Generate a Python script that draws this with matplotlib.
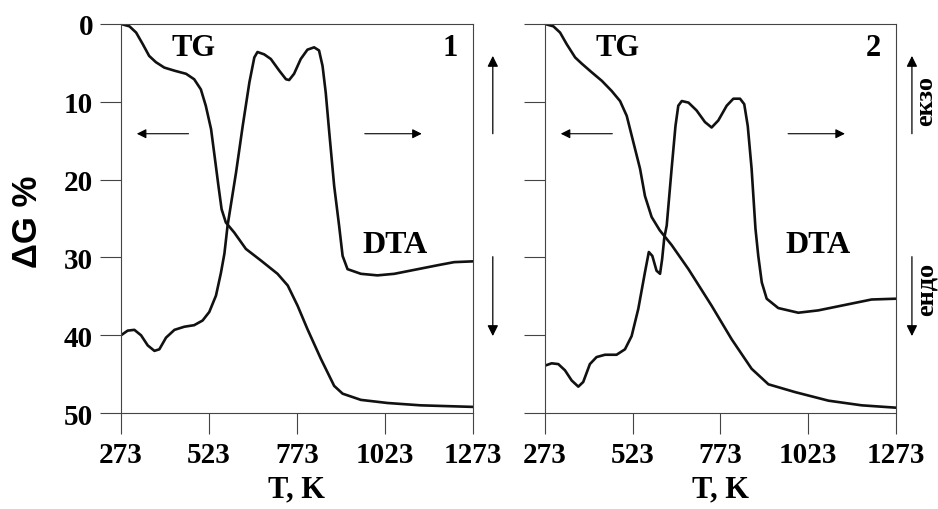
import matplotlib
matplotlib.use("Agg")
from matplotlib import pyplot as plt

# sample 1
tg1_t = [273, 297, 316, 335, 353, 372, 396, 425, 458, 481, 500, 514, 529, 540, 550, 559, 571, 595,
         628, 671, 718, 747, 775, 803, 841, 879, 903, 955, 1031, 1125, 1273]
tg1_g = [0.0, 0.3, 1.1, 2.6, 4.1, 4.9, 5.6, 6.0, 6.4, 7.1, 8.4, 10.5, 13.5, 17.3, 20.8, 23.8, 25.5, 26.8,
         28.9, 30.4, 32.1, 33.6, 36.2, 39.2, 43.0, 46.5, 47.5, 48.3, 48.7, 49.0, 49.2]

dta1_t = [273, 292, 311, 330, 349, 368, 382, 401, 425, 453, 481, 505, 524, 543, 557, 567, 576, 600, 619, 638,
          652, 661, 680, 699, 723, 742, 751, 765, 784, 803, 822, 836, 846, 855, 865, 879, 893, 903,
          917, 955, 1002, 1050, 1106, 1173, 1220, 1273]
dta1_v = [40.0, 39.4, 39.3, 40.0, 41.3, 42.0, 41.8, 40.3, 39.3, 38.9, 38.7, 38.1, 37.0, 34.9, 32.0, 29.5, 25.9, 19.1, 13.1, 7.5,
          4.3, 3.6, 3.9, 4.5, 6.0, 7.1, 7.2, 6.4, 4.5, 3.3, 3.0, 3.4, 5.4, 8.8, 13.9, 20.8, 25.9, 29.8,
          31.5, 32.1, 32.3, 32.1, 31.6, 31.0, 30.6, 30.5]

# sample 2
tg2_t = [273, 297, 316, 335, 359, 378, 406, 435, 463, 487, 506, 525, 544, 558, 577, 600, 634, 682,
         748, 805, 862, 910, 986, 1081, 1176, 1273]
tg2_g = [0.0, 0.3, 1.1, 2.6, 4.3, 5.1, 6.2, 7.3, 8.6, 9.9, 11.8, 15.2, 18.6, 22.1, 24.8, 26.5, 28.4, 31.5,
         36.2, 40.5, 44.3, 46.3, 47.3, 48.4, 49.0, 49.3]

dta2_t = [273, 292, 311, 330, 349, 368, 382, 401, 420, 444, 477, 501, 520, 539, 558, 569, 579, 591, 601, 607,
          613, 620, 634, 645, 653, 663, 682, 705, 729, 748, 767, 791, 810, 829, 841, 851, 862, 873,
          881, 891, 905, 938, 995, 1052, 1128, 1204, 1273]
dta2_v = [43.9, 43.6, 43.7, 44.5, 45.8, 46.6, 46.0, 43.7, 42.8, 42.5, 42.5, 41.8, 40.1, 36.6, 31.9, 29.3, 29.8, 31.7, 32.1, 30.2,
          27.5, 25.9, 18.6, 13.1, 10.5, 9.9, 10.1, 11.1, 12.6, 13.3, 12.4, 10.5, 9.6, 9.6, 10.3, 13.1, 18.6, 26.3,
          29.8, 33.2, 35.3, 36.5, 37.1, 36.8, 36.1, 35.4, 35.3]

x_ticks = [273, 523, 773, 1023, 1273]
y_ticks = [0, 10, 20, 30, 40, 50]

serif = "Liberation Serif"
frame = "#444444"

fig = plt.figure(figsize=(9.38, 5.10), dpi=100)
ax1 = fig.add_axes([0.129, 0.188, 0.375, 0.763])
ax2 = fig.add_axes([0.581, 0.188, 0.374, 0.763])

panels = [(ax1, tg1_t, tg1_g, dta1_t, dta1_v, "1"), (ax2, tg2_t, tg2_g, dta2_t, dta2_v, "2")]

for ax, tt, tg, dt, dv, num in panels:
    ax.plot(tt, tg, color="#111111", lw=1.9, solid_joinstyle="round")
    ax.plot(dt, dv, color="#111111", lw=1.9, solid_joinstyle="round")
    ax.set_xlim(273, 1273)
    ax.set_ylim(50, 0)
    ax.set_xticks(x_ticks)
    ax.set_yticks(y_ticks)
    ax.tick_params(direction="out", length=15, width=0.8, color=frame, pad=5)
    for lbl in ax.get_xticklabels() + ax.get_yticklabels():
        lbl.set_fontfamily(serif)
        lbl.set_fontweight("bold")
        lbl.set_fontsize(21)
    for sp in ax.spines.values():
        sp.set_color(frame)
        sp.set_linewidth(0.8)
    ax.set_xlabel("T, K", family=serif, fontweight="bold", fontsize=22, labelpad=5)

    ax.text(480, 3.0, "TG", family=serif, fontweight="bold", fontsize=22, ha="center", va="center")
    ax.text(1208, 3.0, num, family=serif, fontweight="bold", fontsize=22, ha="center", va="center")
    ax.text(1051, 28.3, "DTA", family=serif, fontweight="bold", fontsize=23, ha="center", va="center")

    # small arrows pointing to the axis for each curve
    ax.annotate("", xy=(318, 14.1), xytext=(465, 14.1),
                arrowprops=dict(arrowstyle="-|>", lw=0.8, color="black", mutation_scale=14, shrinkA=0, shrinkB=0))
    ax.annotate("", xy=(1128, 14.1), xytext=(966, 14.1),
                arrowprops=dict(arrowstyle="-|>", lw=0.8, color="black", mutation_scale=14, shrinkA=0, shrinkB=0))

ax2.set_yticklabels([])

ax1.set_ylabel("ΔG %", family="Liberation Sans", fontweight="bold", fontsize=25)
ax1.yaxis.set_label_coords(-0.22, 0.495)

# exo / endo arrows on the right of each panel
for ax, xf in [(ax1, 1.057), (ax2, 1.046)]:
    ax.annotate("", xy=(xf, 4.1), xytext=(xf, 14.1), xycoords=("axes fraction", "data"),
                textcoords=("axes fraction", "data"),
                arrowprops=dict(arrowstyle="-|>", lw=0.9, color="black", mutation_scale=16, shrinkA=0, shrinkB=0))
    ax.annotate("", xy=(xf, 40.1), xytext=(xf, 29.9), xycoords=("axes fraction", "data"),
                textcoords=("axes fraction", "data"),
                arrowprops=dict(arrowstyle="-|>", lw=0.9, color="black", mutation_scale=16, shrinkA=0, shrinkB=0))

ax2.text(1.104, 9.8, "екзо", transform=ax2.get_yaxis_transform(), family=serif, fontweight="bold",
         fontsize=19, rotation=90, ha="center", va="baseline", rotation_mode="anchor")
ax2.text(1.104, 34.0, "ендо", transform=ax2.get_yaxis_transform(), family=serif, fontweight="bold",
         fontsize=19, rotation=90, ha="center", va="baseline", rotation_mode="anchor")

fig.savefig("out.png", dpi=100)
